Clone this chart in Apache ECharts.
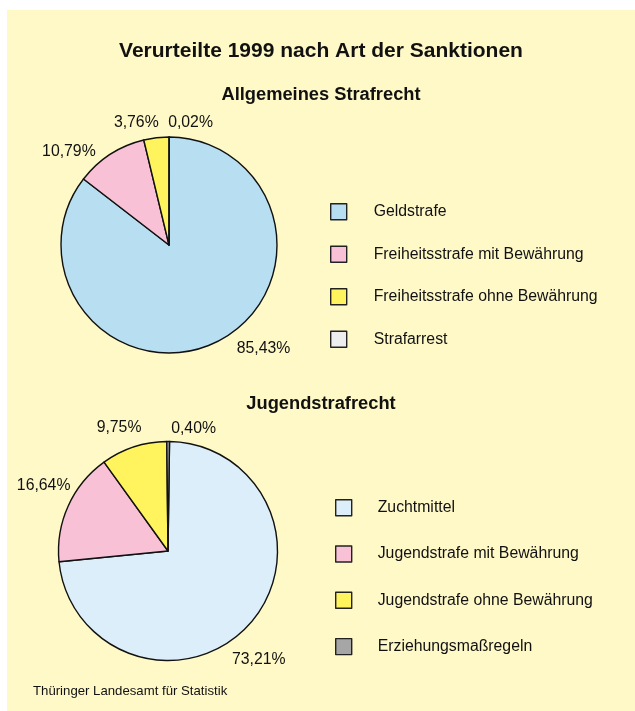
<!DOCTYPE html>
<html>
<head>
<meta charset="utf-8">
<script src="https://cdn.jsdelivr.net/npm/echarts@6/dist/echarts.min.js"></script>
<style>
  html, body { margin: 0; padding: 0; background: #ffffff; }
  #chart { position: absolute; left: 7px; top: 10px; width: 628px; height: 701px; }
</style>
</head>
<body>
<div id="chart"></div>
<script>
// Allgemeines Strafrecht
const generalNames = ['Geldstrafe', 'Freiheitsstrafe mit Bewährung', 'Freiheitsstrafe ohne Bewährung', 'Strafarrest'];
const generalShares = [85.43, 10.79, 3.76, 0.02];
const generalColors = ['#b8def1', '#f8c1d5', '#fff45e', '#eeeeee'];

// Jugendstrafrecht
const youthNames = ['Zuchtmittel', 'Jugendstrafe mit Bewährung', 'Jugendstrafe ohne Bewährung', 'Erziehungsmaßregeln'];
const youthShares = [73.21, 16.64, 9.75, 0.40];
const youthColors = ['#dceef9', '#f8c1d5', '#fff45e', '#a6a6a6'];

const font = "'Liberation Sans', Arial, sans-serif";
const ink = '#111111';

// small hand offsets so the percent labels sit where the original put them
const labelNudge = [
  [[11, -6], [-4, 9], [7, -1], [-4, 0]],
  [[-30, 25], [18, -15], [15, -6], [0, 1]]
];

const fmt = p => p.value.toFixed(2).replace('.', ',') + '%';

const chart = echarts.init(document.getElementById('chart'));

function pieSeries(names, values, colors, center, radius, startAngle, nudge) {
  return {
    type: 'pie',
    center: center,
    radius: radius,
    startAngle: startAngle,
    clockwise: true,
    animation: false,
    silent: true,
    data: names.map((n, i) => ({ name: n, value: values[i], itemStyle: { color: colors[i] } })),
    itemStyle: { borderColor: '#111', borderWidth: 1.4 },
    label: {
      show: true,
      position: 'outside',
      alignTo: 'none',
      overflow: 'none',
      distanceToLabelLine: 3,
      formatter: fmt,
      fontFamily: font,
      fontSize: 15.8,
      color: ink
    },
    labelLine: { show: false, length: 14, length2: 0 },
    labelLayout: p => ({ dx: nudge[p.dataIndex][0], dy: nudge[p.dataIndex][1] }),
    emphasis: { disabled: true }
  };
}

function legendFor(names, left, top, gap, textGap) {
  return {
    data: names,
    orient: 'vertical',
    left: left,
    top: top,
    padding: 0,
    itemWidth: 16,
    itemHeight: 16,
    itemGap: gap,
    icon: 'rect',
    selectedMode: false,
    itemStyle: { borderColor: '#222', borderWidth: 1.4 },
    textStyle: { fontFamily: font, fontSize: 15.8, lineHeight: 16, color: ink, padding: [0, 0, 0, textGap] }
  };
}

chart.setOption({
  backgroundColor: '#fff9c8',
  title: [
    { text: 'Verurteilte 1999 nach Art der Sanktionen', left: 'center', top: 31, padding: 0,
      textStyle: { fontFamily: font, fontSize: 21, fontWeight: 'bold', color: ink } },
    { text: 'Allgemeines Strafrecht', left: 'center', top: 76, padding: 0,
      textStyle: { fontFamily: font, fontSize: 18.3, fontWeight: 'bold', color: ink } },
    { text: 'Jugendstrafrecht', left: 'center', top: 385, padding: 0,
      textStyle: { fontFamily: font, fontSize: 18.3, fontWeight: 'bold', color: ink } },
    { text: 'Thüringer Landesamt für Statistik', left: 26, top: 675, padding: 0,
      textStyle: { fontFamily: font, fontSize: 13.2, fontWeight: 'normal', color: ink } }
  ],
  legend: [
    legendFor(generalNames, 323, 193, 25.1, 22),
    legendFor(youthNames, 328, 489, 28.9, 21)
  ],
  series: [
    pieSeries(generalNames, generalShares, generalColors, [162, 235], 108, 89.9, labelNudge[0]),
    pieSeries(youthNames, youthShares, youthColors, [161, 541], 109.5, 89.2, labelNudge[1])
  ]
});
</script>
</body>
</html>
